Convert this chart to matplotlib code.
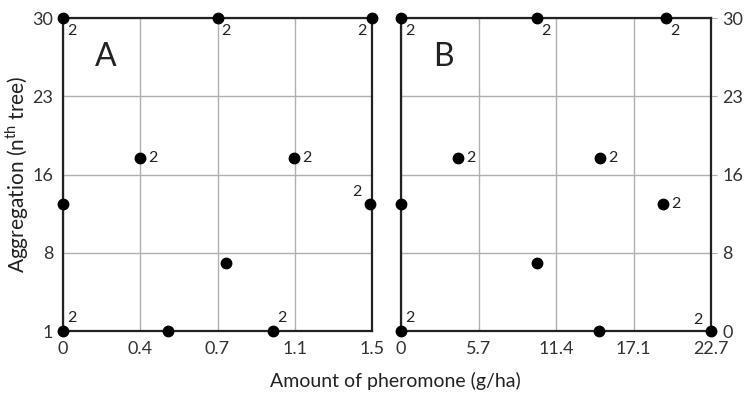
import matplotlib.pyplot as plt
import numpy as np

plt.rcParams['font.family'] = ['Lato', 'DejaVu Sans']

# panel A (amount in g/ha, aggregation = nth tree)
xa = [0, 0.75, 1.5, 0.375, 1.12, 0, 1.49, 0.79, 0, 0.51, 1.02]
ya = [30, 30, 30, 17, 17, 12.8, 12.8, 7.3, 1, 1, 1]
# label "2" and where it sits: r=right, lr=lower right, ll=lower left, ul=upper left, ur=upper right
lab_a = ["lr", "lr", "ll", "r", "r", "", "ul", "", "ur", "", "ur"]

# panel B
xb = [0, 9.94, 19.4, 4.15, 14.57, 0, 19.2, 9.94, 0, 14.52, 22.7]
yb = [30, 30, 30, 17, 17, 12.8, 12.8, 7.3, 1, 1, 1]
lab_b = ["lr", "lr", "lr", "r", "r", "", "r", "", "ur", "", "ul"]

xticks_a = ["0", "0.4", "0.7", "1.1", "1.5"]
xticks_b = ["0", "5.7", "11.4", "17.1", "22.7"]
yticks_l = ["1", "8", "16", "23", "30"]
yticks_r = ["0", "8", "16", "23", "30"]

offs = {"r": (6, 0, "left", "center"),
        "lr": (3, -4, "left", "top"),
        "ll": (-4, -4, "right", "top"),
        "ul": (-6, 3, "right", "bottom"),
        "ur": (3, 4, "left", "bottom")}

fig = plt.figure(figsize=(7.44, 4.01), dpi=100)
axA = fig.add_axes([63/744, 70/401, 309/744, 313/401])
axB = fig.add_axes([401/744, 70/401, 310/744, 313/401])

def panel(ax, x, y, labs, xmax, xlabels, ylabels, letter):
    ax.set_xlim(0, xmax)
    ax.set_ylim(1, 30)
    ax.set_xticks(np.linspace(0, xmax, 5))
    ax.set_xticklabels(xlabels)
    ax.set_yticks(np.linspace(1, 30, 5))
    ax.set_yticklabels(ylabels)
    ax.grid(True, color="#b0b0b0", lw=1)
    ax.set_axisbelow(True)
    for s in ax.spines.values():
        s.set_linewidth(1.6)
        s.set_color("#222222")
    ax.tick_params(labelsize=13, length=0, pad=7, colors="#333333")
    ax.plot(x, y, "o", color="black", ms=7.5, clip_on=False, zorder=5)
    for xi, yi, l in zip(x, y, labs):
        if l:
            dx, dy, ha, va = offs[l]
            ax.annotate("2", (xi, yi), xytext=(dx, dy), textcoords="offset points",
                        ha=ha, va=va, fontsize=11.5, color="#222222", annotation_clip=False)
    ax.text(0.137, 0.875, letter, transform=ax.transAxes, fontsize=23,
            ha="center", va="center", color="#222222")

panel(axA, xa, ya, lab_a, 1.5, xticks_a, yticks_l, "A")
panel(axB, xb, yb, lab_b, 22.7, xticks_b, yticks_r, "B")
axB.yaxis.tick_right()
axB.tick_params(axis="y", length=4, color="#b0b0b0", pad=4)

axA.set_ylabel("Aggregation (n$^{\\mathregular{th}}$ tree)", fontsize=15, color="#222222", va="center")
axA.yaxis.set_label_coords(-0.148, 0.5)
fig.text(0.531, 0.035, "Amount of pheromone (g/ha)", ha="center", fontsize=14, color="#222222")

fig.savefig("out.png", dpi=100)
